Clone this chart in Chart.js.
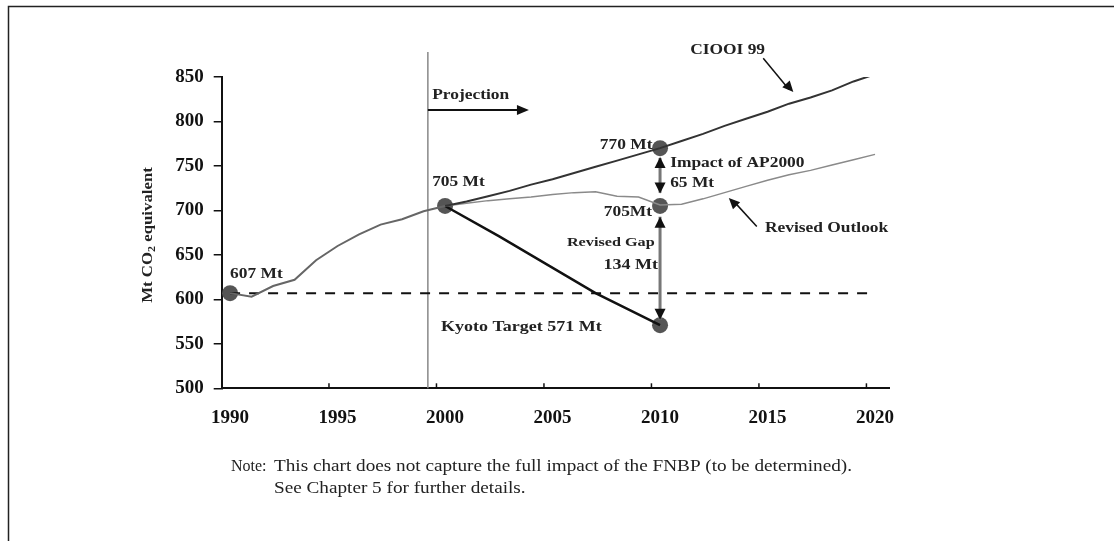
<!DOCTYPE html>
<html>
<head>
<meta charset="utf-8">
<script src="https://cdn.jsdelivr.net/npm/chart.js@4/dist/chart.umd.min.js"></script>
<style>
  html, body { margin: 0; padding: 0; background: #fff; }
  canvas { display: block; }
</style>
</head>
<body>
<canvas id="myChart" width="1114" height="541"></canvas>
<script>
// --- data ---
const xTickYears = [1990, 1995, 2000, 2005, 2010, 2015, 2020];
const yTicks = [500, 550, 600, 650, 700, 750, 800, 850];

const histYears = [1990, 1991, 1992, 1993, 1994, 1995, 1996, 1997, 1998, 1999, 2000];
const histValues = [607, 603, 615, 622, 644, 660, 673, 684, 690, 699, 705];

const ceoYears = [2000, 2001, 2002, 2003, 2004, 2005, 2006, 2007, 2008, 2009, 2010,
                  2011, 2012, 2013, 2014, 2015, 2016, 2017, 2018, 2019, 2020];
const ceoValues = [705, 710, 716, 722, 729, 735, 742, 749, 756, 763, 770,
                   778, 786, 795, 803, 811, 820, 827, 835, 845, 853];

const revisedYears = ceoYears;
const revisedValues = [705, 708, 711, 713, 715, 718, 720, 721, 716, 715, 706,
                       707, 713, 720, 727, 734, 740, 745, 751, 757, 763];

const kyotoYears = [2000, 2002.5, 2007, 2010];
const kyotoValues = [705, 671, 607, 571];

const targetYears = [1990, 2020];
const targetValues = [607, 607];

const markerYears = [1990, 2000, 2010, 2010, 2010];
const markerValues = [607, 705, 770, 705, 571];

const projectionYear = 1999.2;

const pts = (xs, ys) => xs.map((x, i) => ({ x: x, y: ys[i] }));

const SERIF = '"Liberation Serif", "DejaVu Serif", serif';
const STRETCH = 1.2; // the scanned lettering is wider than Times

function arrowHead(c, x1, y1, x2, y2, len, half) {
    const a = Math.atan2(y2 - y1, x2 - x1);
    c.beginPath();
    c.moveTo(x2, y2);
    c.lineTo(x2 - len * Math.cos(a) + half * Math.sin(a), y2 - len * Math.sin(a) - half * Math.cos(a));
    c.lineTo(x2 - len * Math.cos(a) - half * Math.sin(a), y2 - len * Math.sin(a) + half * Math.cos(a));
    c.closePath();
    c.fill();
}

// text drawn wider than the font's natural width
function wideText(c, txt, x, y, align, stretch) {
    const k = stretch || STRETCH;
    c.save();
    c.textBaseline = 'middle';
    c.textAlign = 'left';
    const w = c.measureText(txt).width * k;
    let left = x;
    if (align === 'right') left = x - w;
    if (align === 'center') left = x - w / 2;
    c.translate(left, y);
    c.scale(k, 1);
    c.fillText(txt, 0, 0);
    c.restore();
}

const extras = {
    id: 'extras',
    beforeDatasetsDraw(chart) {
        const c = chart.ctx, xs = chart.scales.x, ys = chart.scales.y;
        // projection divider
        c.save();
        c.strokeStyle = '#888';
        c.lineWidth = 1.5;
        const px = xs.getPixelForValue(projectionYear);
        c.beginPath();
        c.moveTo(px, ys.getPixelForValue(878));
        c.lineTo(px, ys.getPixelForValue(500));
        c.stroke();
        c.restore();
    },
    afterDatasetsDraw(chart) {
        const c = chart.ctx, xs = chart.scales.x, ys = chart.scales.y;
        const X = v => xs.getPixelForValue(v), Y = v => ys.getPixelForValue(v);
        c.save();

        // frame (top + left only)
        c.strokeStyle = '#222';
        c.lineWidth = 1.5;
        c.beginPath();
        c.moveTo(1114, 6.5); c.lineTo(8.5, 6.5); c.lineTo(8.5, 541);
        c.stroke();

        // small inward tick marks on the x axis
        c.strokeStyle = '#111';
        c.lineWidth = 1.5;
        xTickYears.slice(1).forEach(v => {
            const x = X(v - 0.4);
            c.beginPath();
            c.moveTo(x, ys.bottom); c.lineTo(x, ys.bottom - 5);
            c.stroke();
        });

        c.fillStyle = '#111';
        c.strokeStyle = '#111';

        // projection arrow
        c.lineWidth = 2;
        c.beginPath();
        c.moveTo(X(projectionYear), Y(813)); c.lineTo(X(2003.5), Y(813));
        c.stroke();
        arrowHead(c, X(projectionYear), Y(813), X(2003.9), Y(813), 12, 5);

        // CIOOI 99 pointer
        c.lineWidth = 1.5;
        c.beginPath();
        c.moveTo(X(2014.8), Y(871)); c.lineTo(X(2016.0), Y(836));
        c.stroke();
        arrowHead(c, X(2014.8), Y(871), X(2016.2), Y(833), 11, 5);

        // revised outlook pointer
        c.beginPath();
        c.moveTo(X(2014.5), Y(682)); c.lineTo(X(2013.4), Y(711));
        c.stroke();
        arrowHead(c, X(2014.5), Y(682), X(2013.2), Y(714), 11, 5);

        // impact / gap verticals at 2010
        const gx = X(2010);
        c.strokeStyle = '#777';
        c.lineWidth = 3;
        c.beginPath();
        c.moveTo(gx, Y(759)); c.lineTo(gx, Y(720));
        c.moveTo(gx, Y(693)); c.lineTo(gx, Y(577));
        c.stroke();
        c.fillStyle = '#111';
        arrowHead(c, gx, Y(745), gx, Y(760), 11, 5.5);
        arrowHead(c, gx, Y(733), gx, Y(719), 11, 5.5);
        arrowHead(c, gx, Y(680), gx, Y(693), 11, 5.5);
        arrowHead(c, gx, Y(590), gx, Y(577), 11, 5.5);

        // labels
        const label = (txt, x, y, align, size) => {
            c.font = 'bold ' + (size || 14.5) + 'px ' + SERIF;
            wideText(c, txt, x, y, align);
        };
        c.fillStyle = '#222';
        label('Projection', X(1999.4), Y(830));
        label('607 Mt', X(1990.0), Y(628.5));
        label('705 Mt', X(1999.4), Y(732));
        label('770 Mt', X(2009.65), Y(773.6), 'right');
        label('Impact of AP2000', X(2010.47), Y(753.4));
        label('65 Mt', X(2010.47), Y(730.9));
        label('705Mt', X(2009.63), Y(698.3), 'right');
        label('Revised Gap', X(2009.75), Y(663.4), 'right', 13.5);
        label('134 Mt', X(2009.9), Y(638.6), 'right', 15);
        label('Kyoto Target 571 Mt', X(1999.81), Y(568.9), 'left', 15);
        label('Revised Outlook', X(2014.88), Y(680.3));
        label('CIOOI 99', X(2011.4), Y(880.4));

        // y axis title, rotated, with subscript
        c.translate(148, 235);
        c.rotate(-Math.PI / 2);
        c.scale(STRETCH, 1);
        c.textBaseline = 'middle';
        c.textAlign = 'left';
        const a = 'Mt CO', b = ' equivalent';
        c.font = 'bold 14px ' + SERIF;
        const wa = c.measureText(a).width, wb = c.measureText(b).width;
        c.font = 'bold 10px ' + SERIF;
        const w2 = c.measureText('2').width;
        const start = -(wa + w2 + wb) / 2;
        c.font = 'bold 14px ' + SERIF;
        c.fillText(a, start, 0);
        c.font = 'bold 10px ' + SERIF;
        c.fillText('2', start + wa, 4);
        c.font = 'bold 14px ' + SERIF;
        c.fillText(b, start + wa + w2, 0);
        c.restore();

        // note under the chart
        c.save();
        c.fillStyle = '#222';
        c.font = '16px ' + SERIF;
        wideText(c, 'Note:', 231, 467, 'left', 1.0);
        wideText(c, 'This chart does not capture the full impact of the FNBP (to be determined).', 274, 467);
        wideText(c, 'See Chapter 5 for further details.', 274, 489);
        c.restore();
    }
};

const ctx = document.getElementById('myChart');
new Chart(ctx, {
    type: 'line',
    data: {
        datasets: [
            {
                label: 'Historical',
                data: pts(histYears, histValues),
                borderColor: '#666',
                borderWidth: 2,
                pointRadius: 0
            },
            {
                label: 'CIOOI 99',
                data: pts(ceoYears, ceoValues),
                borderColor: '#333',
                borderWidth: 2,
                pointRadius: 0
            },
            {
                label: 'Revised Outlook',
                data: pts(revisedYears, revisedValues),
                borderColor: '#8a8a8a',
                borderWidth: 1.5,
                pointRadius: 0
            },
            {
                label: 'Kyoto path',
                data: pts(kyotoYears, kyotoValues),
                borderColor: '#111',
                borderWidth: 2.5,
                pointRadius: 0
            },
            {
                label: 'Kyoto target level',
                data: pts(targetYears, targetValues),
                borderColor: '#111',
                borderWidth: 2,
                borderDash: [10, 9],
                pointRadius: 0
            },
            {
                label: 'Key points',
                data: pts(markerYears, markerValues),
                showLine: false,
                pointRadius: 8,
                pointBackgroundColor: '#555',
                pointBorderColor: '#555',
                pointBorderWidth: 0
            }
        ]
    },
    options: {
        responsive: false,
        animation: false,
        devicePixelRatio: 1,
        layout: {
            padding: { left: 152, right: 225, top: 77, bottom: 112.7 }
        },
        scales: {
            x: {
                type: 'linear',
                min: 1989.61,
                max: 2020.65,
                afterBuildTicks: s => { s.ticks = xTickYears.map(v => ({ value: v })); },
                afterFit: s => { s.height = 40; },
                grid: { display: false },
                border: { display: true, color: '#111', width: 2 },
                ticks: {
                    padding: 10,
                    color: '#111',
                    font: { family: SERIF, size: 19, weight: 'bold' },
                    maxRotation: 0,
                    autoSkip: false,
                    callback: v => String(v)
                }
            },
            y: {
                min: 500,
                max: 850,
                afterBuildTicks: s => { s.ticks = yTicks.map(v => ({ value: v })); },
                afterFit: s => { s.width = 69.7; },
                grid: { drawOnChartArea: false, tickLength: 8, color: '#111', lineWidth: 1.5 },
                border: { display: true, color: '#111', width: 2 },
                ticks: {
                    padding: 10,
                    color: '#111',
                    font: { family: SERIF, size: 19, weight: 'bold' }
                }
            }
        },
        plugins: {
            legend: { display: false },
            tooltip: { enabled: false }
        }
    },
    plugins: [extras]
});
</script>
</body>
</html>
